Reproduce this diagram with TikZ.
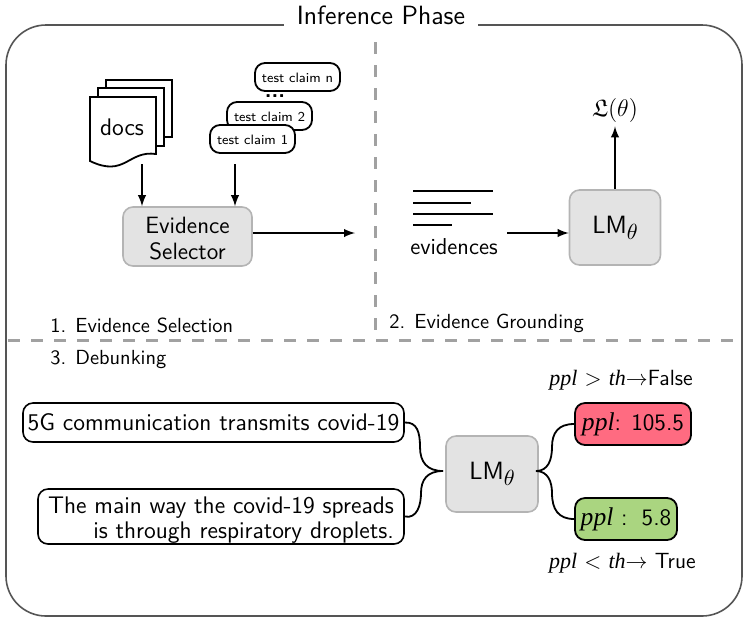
\documentclass[tikz,border=0pt]{standalone}
\usepackage{amssymb}
\usepackage{fontspec}
\newfontfamily\timesfont{Liberation Serif}
\renewcommand{\familydefault}{\sfdefault}
\usetikzlibrary{positioning}
\definecolor{boxgray}{HTML}{E3E3E3}
\definecolor{boxedge}{HTML}{B4B4B4}
\definecolor{falsered}{HTML}{FF6B81}
\definecolor{truegreen}{HTML}{AAD580}
\definecolor{framegray}{HTML}{555555}
\tikzset{
    frame/.style={draw=framegray, line width=0.8pt, rounded corners=20pt},
    divider/.style={draw=black!37, line width=1.5pt, dash pattern=on 6pt off 5.5pt},
    sheet/.style={draw=black, fill=white, line width=0.9pt},
    model/.style={draw=boxedge, fill=boxgray, line width=0.8pt, rounded corners=5pt, align=center, font=\fontsize{11.8}{13}\selectfont},
    claim/.style={draw=black, fill=white, line width=0.9pt, rounded corners=5pt, minimum width=42.5pt, minimum height=14pt, inner sep=0pt, text height=6pt, font=\fontsize{6.8}{8}\selectfont},
    sentence/.style={draw=black, fill=white, line width=0.8pt, rounded corners=5pt, inner sep=0pt, align=right, font=\fontsize{12}{12.6}\selectfont},
    score/.style={draw=black, line width=0.9pt, rounded corners=5pt, minimum height=21pt, inner sep=0pt, font=\fontsize{11.8}{14}\selectfont},
    caption/.style={anchor=west, inner sep=0pt, font=\fontsize{10.2}{12}\selectfont},
    flow/.style={-latex, line width=0.9pt, black},
    branch/.style={line width=0.9pt, black},
}
\newcommand{\pplit}[1]{{\timesfont\itshape #1}}
\newcommand{\pplbig}{{\timesfont\itshape\fontsize{12.8}{14}\selectfont ppl}}
\newcommand{\lmtheta}{\fontsize{12.5}{14}\selectfont LM\raisebox{-3pt}{\fontsize{10.5}{12}\selectfont$\theta$}}
\begin{document}
\begin{tikzpicture}[x=0.5pt, y=-0.5pt]
    \useasboundingbox (0,0) rectangle (747,622);

    % Outer frame and its title
    \draw[frame] (6,25) rectangle (742,616);
    \node[fill=white, inner xsep=6.5pt, inner ysep=2pt, font=\fontsize{13.2}{15}\selectfont] (title) at (381,15) {Inference Phase};
    \draw[divider] (375,42) -- (375,338);
    \draw[divider] (8,340) -- (738,340);

    % 1. Evidence selection: documents and claims
    \draw[sheet] (106,80) rectangle (172,137);
    \draw[sheet] (98,88) rectangle (164,146);
    \draw[sheet] (90,97) -- (156,97) -- (156,154) .. controls (128,150) and (125,178) .. (90,161) -- cycle;
    \node[font=\fontsize{12}{14}\selectfont] (docs) at (122,127) {docs};
    \coordinate (docs end) at (142,164);

    \node[claim] (claimn) at (297.5,77) {test claim n};
    \node[font=\bfseries\fontsize{11}{11}\selectfont, inner sep=0pt, text height=2pt, anchor=base] (dots) at (275,97) {...};
    \node[claim] (claimb) at (269.5,116) {test claim 2};
    \node[claim] (claima) at (252.5,139) {test claim 1};
    \coordinate (claims end) at (235,164);

    \node[model, minimum width=64.5pt, minimum height=29.5pt, inner sep=0pt] (selector) at (187.5,236.5) {\rule{0pt}{10pt}Evidence\\Selector};
    \coordinate (selector end) at (355,233);
    \draw[flow] (docs end) -- (docs end |- selector.north);
    \draw[flow] (claims end) -- (claims end |- selector.north);
    \draw[flow] (selector.east |- selector end) -- (selector end);
    \node[caption] (stepa) at (50,325) {1. Evidence Selection};

    % 2. Evidence grounding
    \foreach \y/\xend in {191/493, 203/471, 214/493, 225/452} {
        \draw[line width=1.1pt] (413,\y) -- (\xend,\y);
    }
    \node[font=\fontsize{11.5}{13}\selectfont, inner sep=0pt] (evidences) at (454,247) {evidences};
    \node[model, minimum width=45.5pt, minimum height=37.5pt, inner sep=0pt] (lmtop) at (615,227.5) {\lmtheta};
    \node[font=\fontsize{12}{14}\selectfont, inner sep=0pt] (loss) at (615,110) {$\mathfrak{L}(\theta)$};
    \coordinate (evidences end) at (507,233);
    \draw[flow] (evidences end) -- (evidences end -| lmtop.west);
    \draw[flow, shorten >=2pt] (lmtop.north) -- (loss.south);
    \node[caption] (stepb) at (389,323) {2. Evidence Grounding};

    % 3. Debunking
    \node[caption] (stepc) at (50,360) {3. Debunking};
    \node[sentence, minimum width=190.5pt, minimum height=19.5pt] (claimtext) at (213.5,422.5) {5G communication transmits covid-19};
    \node[sentence, minimum width=183pt, minimum height=27.5pt] (groundtext) at (221,516.5) {\rule{0pt}{12.3pt}The main way the covid-19 spreads\ \\is through respiratory droplets.};
    \node[model, minimum width=46pt, minimum height=38pt, inner sep=0pt] (lmlow) at (492,474) {\lmtheta};
    \node[score, fill=falsered, minimum width=58pt] (high) at (633,424) {\pplbig: 105.5};
    \node[score, fill=truegreen, minimum width=51pt] (low) at (626,519) {\pplbig\ : \,5.8};
    \coordinate (join in) at (443,471);
    \coordinate (join out) at (536,471);
    \draw[branch] (claimtext.east) .. controls (417,422) and (420,432) .. (420,447) .. controls (420,462) and (427,471) .. (join in);
    \draw[branch] (groundtext.east) .. controls (417,519) and (421,505) .. (421,493) .. controls (421,480) and (427,471) .. (join in);
    \draw[branch] (join out) .. controls (548,471) and (552,460) .. (552,447) .. controls (552,433) and (558,424) .. (high.west);
    \draw[branch] (join out) .. controls (548,471) and (552,482) .. (552,493) .. controls (552,509) and (558,519) .. (low.west);
    \node[anchor=east, inner sep=0pt, font=\fontsize{11}{13}\selectfont] (verdicta) at (693,380) {\pplit{ppl} $>$ \pplit{th}$\rightarrow$False};
    \node[anchor=east, inner sep=0pt, font=\fontsize{11}{13}\selectfont] (verdictb) at (696,563) {\pplit{ppl} $<$ \pplit{th}$\rightarrow$ True};

\end{tikzpicture}
\end{document}
